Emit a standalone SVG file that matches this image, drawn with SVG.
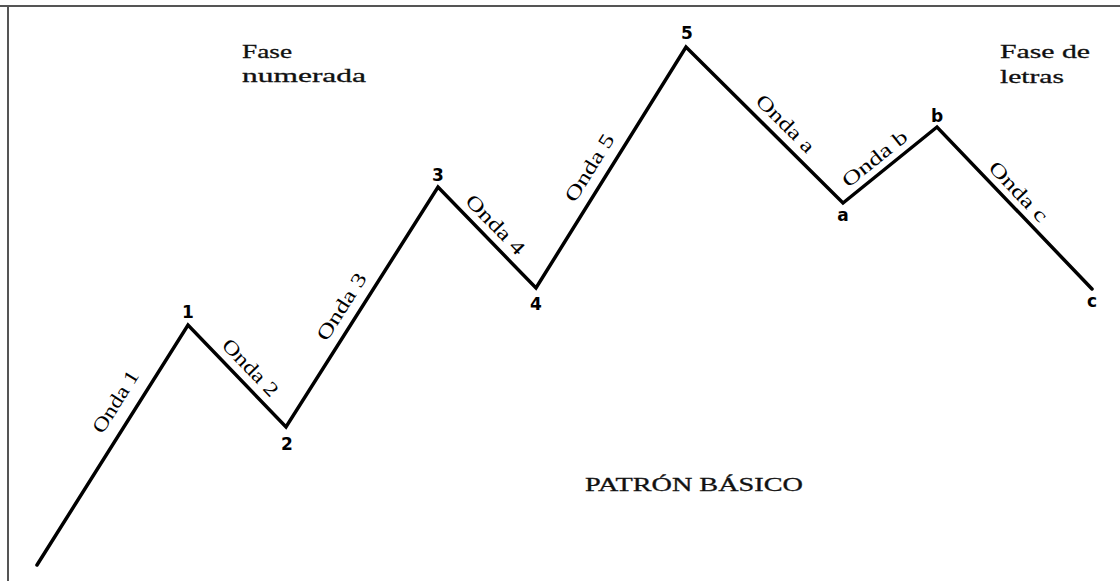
<svg xmlns="http://www.w3.org/2000/svg" width="1120" height="581" viewBox="0 0 1120 581">
<style>
.frame{stroke:#555;stroke-width:2;fill:none}
.wave{stroke:#000;stroke-width:3.5;fill:none;stroke-linejoin:miter;stroke-linecap:round}
.pt{font-family:"DejaVu Sans","Liberation Sans",sans-serif;font-weight:bold;font-size:17px;fill:#000;text-anchor:middle}
.onda{font-family:"Liberation Serif","Times New Roman",serif;font-size:20px;fill:#000;text-anchor:middle}
.hdr{font-family:"Liberation Serif","Times New Roman",serif;font-size:19px;fill:#111;stroke:#111;stroke-width:0.3}
</style>
<rect width="1120" height="581" fill="#fff"/>
<g id="frame">
<line class="frame" x1="0" y1="6" x2="1120" y2="6"/>
<line class="frame" x1="8" y1="6" x2="8" y2="581"/>
</g>
<g id="connectors">
<polyline class="wave" points="37,565 188,325 286,427 438,187 536,288 686,47 843,203 937,127 1092,289"/>
</g>
<g id="node-1"><text class="pt" x="188" y="318">1</text></g>
<g id="node-2"><text class="pt" x="287" y="450">2</text></g>
<g id="node-3"><text class="pt" x="438" y="181">3</text></g>
<g id="node-4"><text class="pt" x="536" y="310">4</text></g>
<g id="node-5"><text class="pt" x="687" y="39">5</text></g>
<g id="node-a"><text class="pt" x="843" y="221">a</text></g>
<g id="node-b"><text class="pt" x="937" y="122">b</text></g>
<g id="node-c"><text class="pt" x="1092" y="307">c</text></g>
<g id="wave-labels">
<text class="onda" textLength="70" lengthAdjust="spacingAndGlyphs" transform="translate(116,402) rotate(-57.8) translate(0,6)">Onda 1</text>
<text class="onda" textLength="72" lengthAdjust="spacingAndGlyphs" transform="translate(250,368) rotate(46.1) translate(0,6)">Onda 2</text>
<text class="onda" textLength="76" lengthAdjust="spacingAndGlyphs" transform="translate(342,307) rotate(-57.7) translate(0,6)">Onda 3</text>
<text class="onda" textLength="76" lengthAdjust="spacingAndGlyphs" transform="translate(495,225) rotate(45.9) translate(0,6)">Onda 4</text>
<text class="onda" textLength="76" lengthAdjust="spacingAndGlyphs" transform="translate(590,168) rotate(-58.1) translate(0,6)">Onda 5</text>
<text class="onda" textLength="74" lengthAdjust="spacingAndGlyphs" transform="translate(785,124) rotate(44.8) translate(0,6)">Onda a</text>
<text class="onda" textLength="78" lengthAdjust="spacingAndGlyphs" transform="translate(875,159) rotate(-38.9) translate(0,6)">Onda b</text>
<text class="onda" textLength="76" lengthAdjust="spacingAndGlyphs" transform="translate(1018,192) rotate(46.3) translate(0,6)">Onda c</text>
</g>
<g id="phase-labels">
<text class="hdr" x="242" y="58" textLength="50" lengthAdjust="spacingAndGlyphs">Fase</text>
<text class="hdr" x="242" y="82" textLength="124" lengthAdjust="spacingAndGlyphs">numerada</text>
<text class="hdr" x="1000" y="58" textLength="90" lengthAdjust="spacingAndGlyphs">Fase de</text>
<text class="hdr" x="1000" y="83" textLength="64" lengthAdjust="spacingAndGlyphs">letras</text>
<text class="hdr" x="585" y="491" textLength="218" lengthAdjust="spacingAndGlyphs">PATRÓN BÁSICO</text>
</g>
</svg>
